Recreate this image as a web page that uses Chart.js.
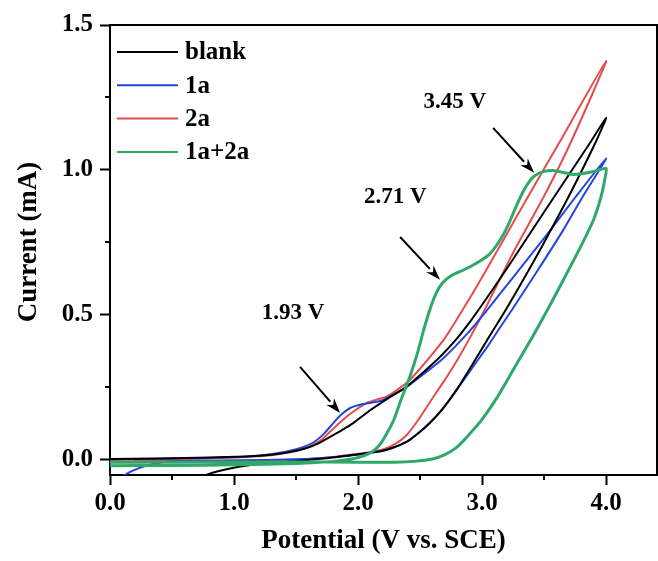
<!DOCTYPE html>
<html>
<head>
<meta charset="utf-8">
<script src="https://cdn.jsdelivr.net/npm/chart.js@4.4.0/dist/chart.umd.min.js"></script>
<style>
  html, body { margin: 0; padding: 0; background: #fff; }
  #wrap { width: 658px; height: 561px; }
</style>
</head>
<body>
<div id="wrap"><canvas id="cv" width="658" height="561"></canvas></div>
<script>
// series names (legend order)
const seriesLabels = ['blank', '1a', '2a', '1a+2a'];

// each loop: anodic sweep 0 -> 4 V, then back
const blankV = [0.00, 0.40, 0.80, 1.10, 1.30, 1.45, 1.58, 1.68, 1.77, 1.87, 1.96, 2.10, 2.25, 2.39, 2.52, 2.66, 2.80, 2.90, 3.00, 3.20, 3.50, 3.88, 4.00,
                3.92, 3.70, 3.50, 3.35, 3.19, 3.05, 2.93, 2.80, 2.68, 2.58, 2.48, 2.39, 2.28, 2.18, 2.05, 1.94, 1.77, 1.50, 1.27, 1.05, 0.93, 0.82, 0.72];
const blankI = [0.003, 0.005, 0.008, 0.012, 0.018, 0.027, 0.040, 0.057, 0.079, 0.103, 0.127, 0.172, 0.215, 0.252, 0.300, 0.355, 0.420, 0.475, 0.535, 0.660, 0.855, 1.100, 1.180,
                1.100, 0.910, 0.750, 0.635, 0.517, 0.420, 0.335, 0.245, 0.175, 0.128, 0.090, 0.062, 0.042, 0.030, 0.022, 0.016, 0.007, -0.004, -0.011, -0.023, -0.033, -0.045, -0.060];

const oneAV = [0.00, 0.40, 0.80, 1.10, 1.30, 1.45, 1.56, 1.64, 1.72, 1.80, 1.87, 1.94, 2.04, 2.18, 2.31, 2.42, 2.54, 2.66, 2.78, 2.90, 3.04, 3.25, 3.51, 3.75, 4.00,
               3.80, 3.65, 3.45, 3.24, 3.15, 3.05, 2.95, 2.80, 2.68, 2.58, 2.48, 2.39, 2.28, 2.18, 2.00, 1.77, 1.50, 1.00, 0.70, 0.50, 0.40, 0.27, 0.18, 0.12, 0.08];
const oneAI = [0.002, 0.004, 0.007, 0.012, 0.020, 0.032, 0.045, 0.060, 0.088, 0.127, 0.158, 0.180, 0.193, 0.203, 0.230, 0.260, 0.300, 0.340, 0.390, 0.445, 0.517, 0.630, 0.770, 0.905, 1.040,
               0.900, 0.790, 0.655, 0.517, 0.460, 0.395, 0.335, 0.245, 0.175, 0.128, 0.090, 0.062, 0.042, 0.030, 0.019, 0.008, 0.002, -0.002, -0.003, -0.005, -0.010, -0.023, -0.038, -0.052, -0.065];

const twoAV = [0.00, 0.40, 0.80, 1.10, 1.30, 1.45, 1.56, 1.64, 1.72, 1.80, 1.87, 1.94, 2.07, 2.15, 2.23, 2.31, 2.39, 2.48, 2.58, 2.70, 2.84, 3.00, 3.16, 3.40, 3.63, 4.00,
               3.72, 3.50, 3.25, 3.02, 2.90, 2.80, 2.69, 2.58, 2.48, 2.39, 2.30, 2.20, 2.05, 1.90, 1.70, 1.40, 1.00, 0.50, 0.20];
const twoAI = [0.000, 0.003, 0.006, 0.010, 0.016, 0.026, 0.038, 0.052, 0.075, 0.108, 0.135, 0.160, 0.197, 0.208, 0.218, 0.240, 0.265, 0.305, 0.355, 0.420, 0.515, 0.630, 0.750, 0.930, 1.100, 1.376,
               1.100, 0.910, 0.715, 0.517, 0.420, 0.345, 0.270, 0.200, 0.135, 0.085, 0.055, 0.036, 0.024, 0.016, 0.006, 0.000, -0.002, -0.003, -0.003];

const mixV = [0.00, 0.50, 1.00, 1.50, 1.80, 1.95, 2.05, 2.12, 2.18, 2.23, 2.29, 2.34, 2.42, 2.48, 2.53, 2.58, 2.63, 2.68, 2.75, 2.85, 2.96, 3.06, 3.14, 3.21, 3.27, 3.33, 3.38, 3.43, 3.50, 3.57, 3.65, 3.72, 3.80, 3.90, 4.00,
              3.99, 3.96, 3.90, 3.80, 3.66, 3.53, 3.40, 3.25, 3.12, 3.00, 2.90, 2.80, 2.70, 2.60, 2.45, 2.30, 2.00, 1.50, 1.00, 0.50, 0.00];
const mixI = [-0.020, -0.019, -0.017, -0.012, -0.005, 0.003, 0.015, 0.030, 0.055, 0.090, 0.140, 0.200, 0.290, 0.370, 0.450, 0.520, 0.575, 0.610, 0.635, 0.655, 0.680, 0.710, 0.755, 0.810, 0.870, 0.925, 0.960, 0.982, 0.995, 0.998, 0.992, 0.985, 0.987, 0.995, 1.005,
              0.970, 0.910, 0.830, 0.740, 0.625, 0.520, 0.420, 0.310, 0.215, 0.140, 0.090, 0.045, 0.018, 0.003, -0.005, -0.008, -0.008, -0.007, -0.007, -0.008, -0.008];

// axes
const xTicks = [0, 1, 2, 3, 4];
const xMinor = [0.5, 1.5, 2.5, 3.5];
const yTicks = [0, 0.5, 1.0, 1.5];
const yMinor = [0.25, 0.75, 1.25];
const yTitle = 'Current (mA)';

// peak annotations
const peakLabels = ['1.93 V', '2.71 V', '3.45 V'];

Chart.defaults.font.family = '"Liberation Serif", "Times New Roman", serif';
Chart.defaults.color = '#000';

const tickFont = { size: 25, weight: 'bold' };
const titleFont = { size: 27, weight: 'bold' };

function pairs(xs, ys) {
    return xs.map((v, i) => ({ x: v, y: ys[i] }));
}

// top/right frame, minor ticks, y title (sits a bit above centre in the original)
const framePlugin = {
    id: 'frame',
    afterDraw(chart) {
        const { ctx, chartArea: a, scales: { x, y } } = chart;
        ctx.save();
        ctx.strokeStyle = '#000';
        ctx.lineWidth = 2;
        ctx.beginPath();
        ctx.moveTo(a.left, a.top);
        ctx.lineTo(a.right, a.top);
        ctx.lineTo(a.right, a.bottom);
        xMinor.forEach(v => {
            const px = Math.round(x.getPixelForValue(v));
            ctx.moveTo(px, a.bottom);
            ctx.lineTo(px, a.bottom + 5);
        });
        yMinor.forEach(v => {
            const py = Math.round(y.getPixelForValue(v));
            ctx.moveTo(a.left, py);
            ctx.lineTo(a.left - 5, py);
        });
        ctx.stroke();

        ctx.translate(29, a.top + (a.bottom - a.top) / 2 - 8);
        ctx.rotate(-Math.PI / 2);
        ctx.font = 'bold 27px "Liberation Serif"';
        ctx.textAlign = 'center';
        ctx.textBaseline = 'middle';
        ctx.fillStyle = '#000';
        ctx.fillText(yTitle, 0, 0);
        ctx.restore();
    }
};

// legend sits inside the plot, top left
const insideLegend = {
    id: 'insideLegend',
    afterDatasetsDraw(chart) {
        const { ctx, chartArea: a } = chart;
        ctx.save();
        ctx.font = 'bold 25px "Liberation Serif"';
        ctx.textBaseline = 'middle';
        ctx.textAlign = 'left';
        chart.data.datasets.forEach((ds, i) => {
            const yy = a.top + 27 + i * 33.3;
            ctx.strokeStyle = ds.borderColor;
            ctx.lineWidth = 2;
            ctx.beginPath();
            ctx.moveTo(a.left + 7, yy);
            ctx.lineTo(a.left + 68, yy);
            ctx.stroke();
            ctx.fillStyle = '#000';
            ctx.fillText(ds.label, a.left + 75, yy + 1);
        });
        ctx.restore();
    }
};

// labels with arrows pointing to the peaks
const peakArrows = {
    id: 'peakArrows',
    afterDatasetsDraw(chart, args, opts) {
        const { ctx, scales: { x, y } } = chart;
        ctx.save();
        ctx.font = 'bold 23px "Liberation Serif"';
        ctx.textAlign = 'center';
        ctx.textBaseline = 'middle';
        ctx.fillStyle = '#000';
        ctx.strokeStyle = '#000';
        ctx.lineWidth = 2;
        opts.items.forEach((it, i) => {
            ctx.fillText(peakLabels[i], x.getPixelForValue(it.text[0]), y.getPixelForValue(it.text[1]));
            const x0 = x.getPixelForValue(it.from[0]), y0 = y.getPixelForValue(it.from[1]);
            const x1 = x.getPixelForValue(it.to[0]), y1 = y.getPixelForValue(it.to[1]);
            const ang = Math.atan2(y1 - y0, x1 - x0);
            const head = 15, half = 5;
            const bx = x1 - head * Math.cos(ang), by = y1 - head * Math.sin(ang);
            ctx.beginPath();
            ctx.moveTo(x0, y0);
            ctx.lineTo(bx, by);
            ctx.stroke();
            ctx.beginPath();
            ctx.moveTo(x1, y1);
            ctx.lineTo(bx + half * Math.sin(ang), by - half * Math.cos(ang));
            ctx.lineTo(x1 - 0.7 * head * Math.cos(ang), y1 - 0.7 * head * Math.sin(ang));
            ctx.lineTo(bx - half * Math.sin(ang), by + half * Math.cos(ang));
            ctx.closePath();
            ctx.fill();
        });
        ctx.restore();
    }
};

const lineDefaults = { showLine: true, pointRadius: 0, fill: false, tension: 0.2, borderWidth: 2 };

new Chart(document.getElementById('cv'), {
    type: 'scatter',
    data: {
        datasets: [
            { ...lineDefaults, label: seriesLabels[0], data: pairs(blankV, blankI), borderColor: '#000000', order: 1 },
            { ...lineDefaults, label: seriesLabels[1], data: pairs(oneAV, oneAI), borderColor: '#2444dc', order: 1 },
            { ...lineDefaults, label: seriesLabels[2], data: pairs(twoAV, twoAI), borderColor: '#e64c4c', order: 1 },
            { ...lineDefaults, label: seriesLabels[3], data: pairs(mixV, mixI), borderColor: '#2fa86a', borderWidth: 3, order: 0 }
        ]
    },
    options: {
        responsive: false,
        animation: false,
        layout: { padding: { top: 25, right: 1, left: 0, bottom: 0 } },
        plugins: {
            legend: { display: false },
            tooltip: { enabled: false },
            peakArrows: {
                items: [
                    { text: [1.476, 0.507], from: [1.532, 0.321], to: [1.855, 0.162] },
                    { text: [2.30, 0.907], from: [2.339, 0.769], to: [2.661, 0.621] },
                    { text: [2.78, 1.234], from: [3.089, 1.145], to: [3.42, 0.99] }
                ]
            }
        },
        scales: {
            x: {
                type: 'linear',
                min: 0,
                max: 4.41,
                afterBuildTicks: s => { s.ticks = xTicks.map(v => ({ value: v })); },
                afterFit: s => { s.height = 86; },
                ticks: { autoSkip: false, maxRotation: 0, padding: 4, font: tickFont, color: '#000', callback: v => v.toFixed(1) },
                grid: { drawOnChartArea: false, tickLength: 10, tickWidth: 2, tickColor: '#000' },
                border: { display: true, color: '#000', width: 2 },
                title: { display: true, text: 'Potential (V vs. SCE)', font: titleFont, color: '#000', padding: { top: 4, bottom: 4 } }
            },
            y: {
                type: 'linear',
                min: -0.052,
                max: 1.5,
                afterBuildTicks: s => { s.ticks = yTicks.map(v => ({ value: v })); },
                afterFit: s => { s.width = 110; },
                ticks: { autoSkip: false, padding: 7, font: tickFont, color: '#000', callback: v => v.toFixed(1) },
                grid: { drawOnChartArea: false, tickLength: 10, tickWidth: 2, tickColor: '#000' },
                border: { display: true, color: '#000', width: 2 },
                title: { display: false }
            }
        }
    },
    plugins: [framePlugin, insideLegend, peakArrows]
});
</script>
</body>
</html>
